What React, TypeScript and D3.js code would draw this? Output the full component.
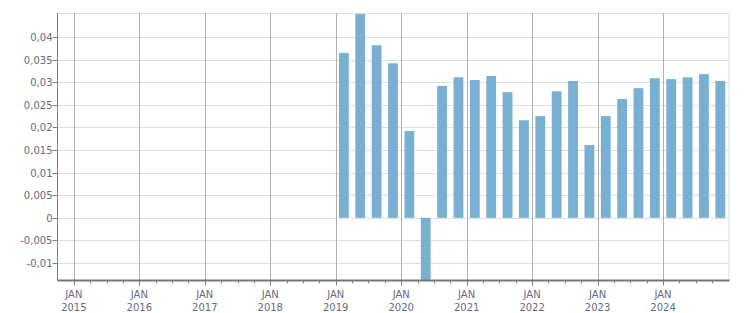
import React from "react";
import * as d3 from "d3";

const years = [2015, 2016, 2017, 2018, 2019, 2020, 2021, 2022, 2023, 2024];
const dataQuarters = [
  "2019Q1", "2019Q2", "2019Q3", "2019Q4",
  "2020Q1", "2020Q2", "2020Q3", "2020Q4",
  "2021Q1", "2021Q2", "2021Q3", "2021Q4",
  "2022Q1", "2022Q2", "2022Q3", "2022Q4",
  "2023Q1", "2023Q2", "2023Q3", "2023Q4",
  "2024Q1", "2024Q2", "2024Q3", "2024Q4",
];
const values = [
  0.0365, 0.0451, 0.0382, 0.0342,
  0.0192, -0.016, 0.0292, 0.0311,
  0.0305, 0.0314, 0.0278, 0.0216,
  0.0225, 0.028, 0.0303, 0.0161,
  0.0225, 0.0263, 0.0287, 0.0309,
  0.0307, 0.0311, 0.0318, 0.0303,
];
const yTicks = [-0.01, -0.005, 0, 0.005, 0.01, 0.015, 0.02, 0.025, 0.03, 0.035, 0.04];
const yTickLabels = ["-0,01", "-0,005", "0", "0,005", "0,01", "0,015", "0,02", "0,025", "0,03", "0,035", "0,04"];
const monthLabel = "JAN";

const W = 751;
const H = 313;
const left = 57.5;
const right = 728.5;
const top = 13;
const bottom = 280.5;

const allQuarters: string[] = ["2014Q4"];
years.forEach((yr) => [1, 2, 3, 4].forEach((q) => allQuarters.push(`${yr}Q${q}`)));

const textColor = "#676a80";
const font = "'DejaVu Sans', sans-serif";

export default function App() {
  const x = d3.scaleBand<string>().domain(allQuarters).range([left, right]).paddingInner(0.4).paddingOuter(0.2);
  const step = x.step();
  const qStart = (q: string) => (x(q) as number) - step * 0.2;
  const y = d3.scaleLinear().domain([-0.01387, 0.04533]).range([bottom, top]);

  return (
    <svg width={W} height={H} style={{ position: "absolute", left: 0, top: 0 }} fontFamily={font}>
      <defs>
        <clipPath id="plot">
          <rect x={left} y={top} width={right - left} height={bottom - top} />
        </clipPath>
      </defs>
      <rect x={0} y={0} width={W} height={H} fill="#fff" />
      {/* horizontal grid */}
      {yTicks.map((t) => (
        <line key={t} x1={left} x2={right} y1={Math.round(y(t)) + 0.5} y2={Math.round(y(t)) + 0.5} stroke="#dedede" />
      ))}
      <line x1={left} x2={right} y1={top + 0.5} y2={top + 0.5} stroke="#dedede" />
      <line x1={right + 0.5} x2={right + 0.5} y1={top} y2={bottom} stroke="#dedede" />
      {/* vertical grid */}
      {years.map((yr) => {
        const xx = Math.round(qStart(`${yr}Q1`)) + 0.5;
        return <line key={yr} x1={xx} x2={xx} y1={top} y2={bottom} stroke="#b0b0b0" />;
      })}
      {/* bars */}
      <g clipPath="url(#plot)">
        {dataQuarters.map((q, i) => {
          const v = values[i];
          const y0 = y(0);
          const y1 = y(v);
          return (
            <rect
              key={q}
              x={x(q)}
              width={x.bandwidth()}
              y={Math.min(y0, y1)}
              height={Math.abs(y1 - y0)}
              fill="#78b0d2"
            />
          );
        })}
      </g>
      {/* y axis */}
      <line x1={left} x2={left} y1={top} y2={bottom} stroke="#808080" />
      {yTicks.map((t, i) => {
        const yy = Math.round(y(t)) + 0.5;
        return (
          <g key={t}>
            <line x1={left - 5} x2={left} y1={yy} y2={yy} stroke="#808080" />
            <text x={left - 5} y={yy} dy="0.36em" textAnchor="end" fontSize={10} fill={textColor}>
              {yTickLabels[i]}
            </text>
          </g>
        );
      })}
      {/* x axis */}
      {allQuarters.slice(1).map((q) => {
        const xx = Math.round(qStart(q)) + 0.5;
        const major = q.endsWith("Q1");
        return <line key={q} x1={xx} x2={xx} y1={bottom} y2={bottom + (major ? 5 : 3)} stroke="#808080" />;
      })}
      <line x1={left} x2={right + 1} y1={bottom} y2={bottom} stroke="#777" strokeWidth={2} />
      {years.map((yr) => {
        const xx = qStart(`${yr}Q1`);
        return (
          <g key={yr} fontSize={10} fill={textColor} textAnchor="middle">
            <text x={xx} y={297.8}>{monthLabel}</text>
            <text x={xx} y={310.5}>{yr}</text>
          </g>
        );
      })}
    </svg>
  );
}
